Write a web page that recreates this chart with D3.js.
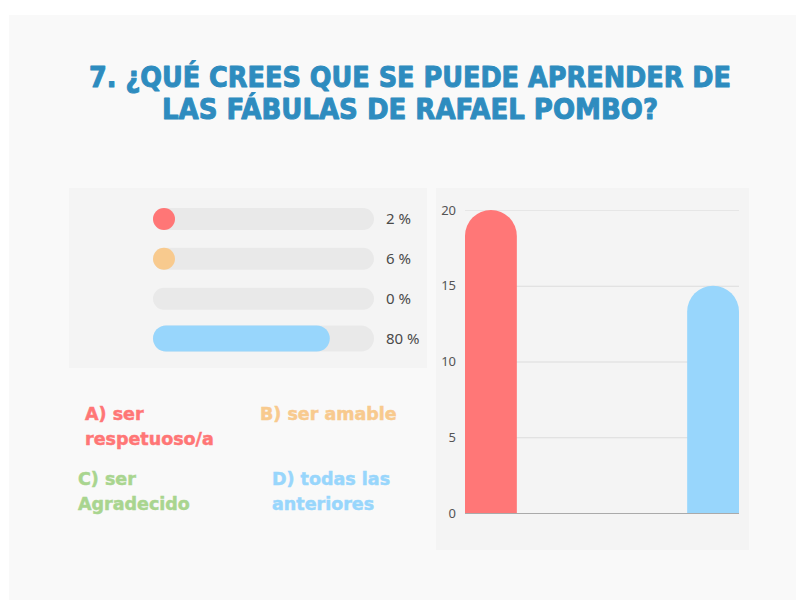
<!DOCTYPE html>
<html>
<head>
<meta charset="utf-8">
<script src="https://cdn.jsdelivr.net/npm/d3@7"></script>
<style>
  body { margin: 0; background: #fff; }
  svg { display: block; }
</style>
</head>
<body>
<svg id="chart" width="796" height="600"></svg>
<script>
// data
const titleLines = ["7. ¿QUÉ CREES QUE SE PUEDE APRENDER DE", "LAS FÁBULAS DE RAFAEL POMBO?"]
const options = ["A", "B", "C", "D"]
const percents = [2, 6, 0, 80]
const counts = [20, 0, 0, 15]
const yTicks = [0, 5, 10, 15, 20]
const legendLabels = [["A) ser", "respetuoso/a"], ["B) ser amable"], ["C) ser", "Agradecido"], ["D) todas las", "anteriores"]]
const colors = ["#ff7676", "#f8ca8e", "#a9d58f", "#98d6fc"]

const heavy = "'DejaVu Sans', sans-serif"
const svg = d3.select("#chart")

// card background
svg.append("rect").attr("x", 9).attr("y", 15).attr("width", 787).attr("height", 585).attr("fill", "#f9f9f9")

// title (stroke makes it look heavier)
const titleWidths = [642, 496]
svg.selectAll(".title")
  .data(titleLines)
  .enter()
  .append("text")
  .attr("class", "title")
  .attr("x", 410)
  .attr("y", (d, i) => 87 + i * 31.5)
  .attr("text-anchor", "middle")
  .attr("textLength", (d, i) => titleWidths[i])
  .attr("lengthAdjust", "spacingAndGlyphs")
  .style("font-family", heavy)
  .style("font-weight", "bold")
  .style("font-size", "28px")
  .attr("fill", "#2e8cbf")
  .attr("stroke", "#2e8cbf")
  .attr("stroke-width", 1)
  .attr("stroke-linejoin", "round")
  .text(d => d)

// ---- left panel: progress bars
svg.append("rect").attr("x", 69).attr("y", 188).attr("width", 358).attr("height", 180).attr("fill", "#f4f4f4")

const px = d3.scaleLinear().domain([0, 100]).range([153, 374])
const py = d3.scalePoint().domain(options).range([219, 338.5])
const barH = (d, i) => i === 3 ? 26 : 22

const rows = svg.append("g").selectAll("g")
  .data(options)
  .enter()
  .append("g")

rows.append("rect")
  .attr("x", px(0))
  .attr("y", (d, i) => py(d) - barH(d, i) / 2)
  .attr("width", px(100) - px(0))
  .attr("height", barH)
  .attr("rx", (d, i) => barH(d, i) / 2)
  .attr("fill", "#e9e9e9")

rows.filter((d, i) => percents[i] > 0)
  .append("rect")
  .attr("x", px(0))
  .attr("y", (d) => py(d) - barH(d, options.indexOf(d)) / 2)
  .attr("width", (d) => { const i = options.indexOf(d); return Math.max(barH(d, i), px(percents[i]) - px(0)) })
  .attr("height", (d) => barH(d, options.indexOf(d)))
  .attr("rx", (d) => barH(d, options.indexOf(d)) / 2)
  .attr("fill", (d) => colors[options.indexOf(d)])

rows.append("text")
  .attr("x", 386)
  .attr("y", (d) => py(d))
  .attr("dy", "0.35em")
  .style("font-family", "'Noto Sans', sans-serif")
  .style("font-size", "15px")
  .attr("fill", "#4a4a4a")
  .text((d, i) => percents[i] + " %")

// legend labels
const legendPos = [[85, 420], [260, 420], [78, 485], [272, 485]]
legendLabels.forEach((lines, i) => {
  svg.append("text")
    .attr("x", legendPos[i][0])
    .attr("y", legendPos[i][1])
    .style("font-family", heavy)
    .style("font-weight", "bold")
    .style("font-size", "17.5px")
    .attr("fill", colors[i])
    .attr("stroke", colors[i])
    .attr("stroke-width", 0.5)
    .selectAll("tspan")
    .data(lines)
    .enter()
    .append("tspan")
    .attr("x", legendPos[i][0])
    .attr("dy", (d, j) => j === 0 ? 0 : 25)
    .text(d => d)
})

// ---- right panel: column chart
svg.append("rect").attr("x", 436).attr("y", 188).attr("width", 313).attr("height", 362).attr("fill", "#f4f4f4")

const xScale = d3.scaleBand().domain(options).range([465, 739]).paddingInner(0.3).paddingOuter(0)
const yScale = d3.scaleLinear().domain([0, 20]).range([513, 210])

const axis = svg.append("g")
  .attr("transform", "translate(465,0)")
  .call(d3.axisLeft(yScale).tickValues(yTicks).tickSize(-274).tickPadding(9))
  .call(g => g.select(".domain").remove())

axis.selectAll(".tick line")
  .attr("stroke", d => d === 0 ? "#aaa" : d === 20 ? "#e6e6e6" : "#dcdcdc")
  .attr("stroke-width", 1.2)
axis.selectAll(".tick text")
  .style("font-family", "'Noto Sans', sans-serif")
  .style("font-size", "13px")
  .attr("fill", "#555")

// bars with rounded tops
const bw = xScale.bandwidth()
const r = bw / 2
svg.append("g").selectAll("path")
  .data(options.filter((d, i) => counts[i] > 0))
  .enter()
  .append("path")
  .attr("d", d => {
    const v = counts[options.indexOf(d)]
    const x0 = xScale(d), y0 = yScale(0), yt = yScale(v)
    return `M${x0},${y0} L${x0},${yt + r} A${r},${r} 0 0 1 ${x0 + bw},${yt + r} L${x0 + bw},${y0} Z`
  })
  .attr("fill", d => colors[options.indexOf(d)] === "#ff7676" ? "#ff7777" : colors[options.indexOf(d)])
</script>
</body>
</html>
